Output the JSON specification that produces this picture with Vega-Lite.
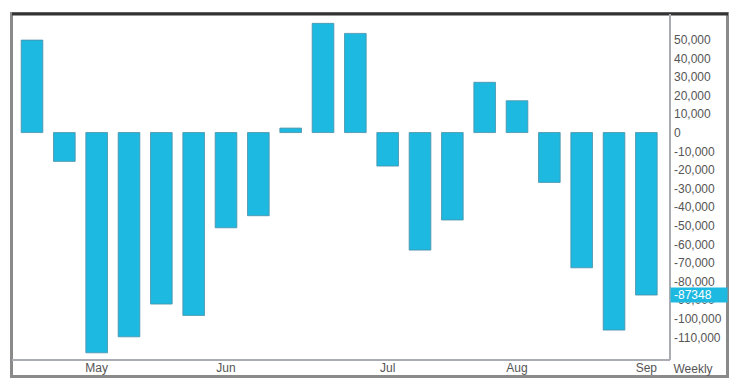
{
  "$schema": "https://vega.github.io/schema/vega-lite/v6.json",
  "width": 716,
  "height": 363,
  "autosize": {"type": "none"},
  "padding": {"left": 11.5, "top": 13.5, "right": 10.5, "bottom": 11.5},
  "config": {
    "view": {"stroke": "#8a8a8a", "strokeWidth": 3},
    "font": "Liberation Sans",
    "locale": {"number": {"decimal": ".", "thousands": ",", "grouping": [3], "currency": ["$", ""], "minus": "-"}}
  },
  "data": {
    "values": [
      {"week": "2023-04-21", "value": 49700},
      {"week": "2023-04-28", "value": -15500},
      {"week": "2023-05-05", "value": -118400},
      {"week": "2023-05-12", "value": -109800},
      {"week": "2023-05-19", "value": -92200},
      {"week": "2023-05-26", "value": -98300},
      {"week": "2023-06-02", "value": -51200},
      {"week": "2023-06-09", "value": -44700},
      {"week": "2023-06-16", "value": 2400},
      {"week": "2023-06-23", "value": 58700},
      {"week": "2023-06-30", "value": 53300},
      {"week": "2023-07-07", "value": -18000},
      {"week": "2023-07-14", "value": -63200},
      {"week": "2023-07-21", "value": -47000},
      {"week": "2023-07-28", "value": 27000},
      {"week": "2023-08-04", "value": 17100},
      {"week": "2023-08-11", "value": -26800},
      {"week": "2023-08-18", "value": -72700},
      {"week": "2023-08-25", "value": -106200},
      {"week": "2023-09-01", "value": -87348}
    ]
  },
  "layer": [
    {
      "encoding": {
        "y": {
          "field": "value",
          "type": "quantitative",
          "scale": {"domain": [-122000, 64000], "range": [346, 0], "nice": false, "zero": false},
          "axis": {
            "orient": "right",
            "offset": -58,
            "values": [-110000, -100000, -90000, -80000, -70000, -60000, -50000, -40000, -30000, -20000, -10000, 0, 10000, 20000, 30000, 40000, 50000],
            "labelExpr": "format(datum.value, ',')",
            "ticks": false,
            "grid": false,
            "domainColor": "#a9acb2",
            "domainWidth": 2,
            "labelPadding": 4,
            "labelAlign": "left",
            "labelBaseline": "middle",
            "labelFontSize": 12,
            "labelColor": "#555555",
            "labelOverlap": false,
            "labelBound": false,
            "title": null
          }
        }
      },
      "layer": [
        {
          "mark": {"type": "bar", "fill": "#1eb9e0", "stroke": "#4a90a8", "strokeWidth": 1, "strokeOpacity": 0.8},
          "encoding": {
            "x": {
              "field": "week",
              "type": "ordinal",
              "sort": null,
              "scale": {"range": [0, 658], "paddingInner": 0.33, "paddingOuter": 0.34, "align": 0.44},
              "axis": {
                "orient": "bottom",
                "offset": -17,
                "domainColor": "#a9acb2",
                "domainWidth": 2,
                "ticks": false,
                "grid": false,
                "labelAngle": 0,
                "labelPadding": 3,
                "labelFontSize": 12,
                "labelColor": "#555555",
                "labelOverlap": false,
                "labelExpr": "toNumber(slice(datum.value, 8, 10)) <= 7 ? ['Jan','Feb','Mar','Apr','May','Jun','Jul','Aug','Sep','Oct','Nov','Dec'][toNumber(slice(datum.value, 5, 7)) - 1] : ''",
                "title": "Weekly",
                "titleX": 661.5,
                "titleY": 12.5,
                "titleAlign": "left",
                "titleAnchor": "start",
                "titleBaseline": "alphabetic",
                "titleFontWeight": "normal",
                "titleFontSize": 12,
                "titleColor": "#555555"
              }
            }
          }
        },
        {
          "transform": [{"filter": "datum.week == '2023-09-01'"}],
          "mark": {"type": "rule", "stroke": "#1eb9e0", "strokeWidth": 15, "strokeCap": "butt"},
          "encoding": {
            "x": {"value": 659},
            "x2": {"value": 716}
          }
        },
        {
          "transform": [{"filter": "datum.week == '2023-09-01'"}],
          "mark": {"type": "text", "align": "left", "baseline": "middle", "fontSize": 12, "color": "#ffffff"},
          "encoding": {
            "x": {"value": 662.5},
            "text": {"field": "value", "type": "quantitative", "format": "d"}
          }
        }
      ]
    },
    {
      "mark": {"type": "rule", "opacity": 0},
      "encoding": {
        "x": {
          "datum": 0,
          "type": "quantitative",
          "scale": {"domain": [0, 1]},
          "axis": {"orient": "top", "domainColor": "#333333", "domainWidth": 3, "ticks": false, "labels": false, "grid": false, "title": null}
        }
      }
    }
  ],
  "resolve": {"scale": {"x": "independent"}, "axis": {"x": "independent"}}
}
